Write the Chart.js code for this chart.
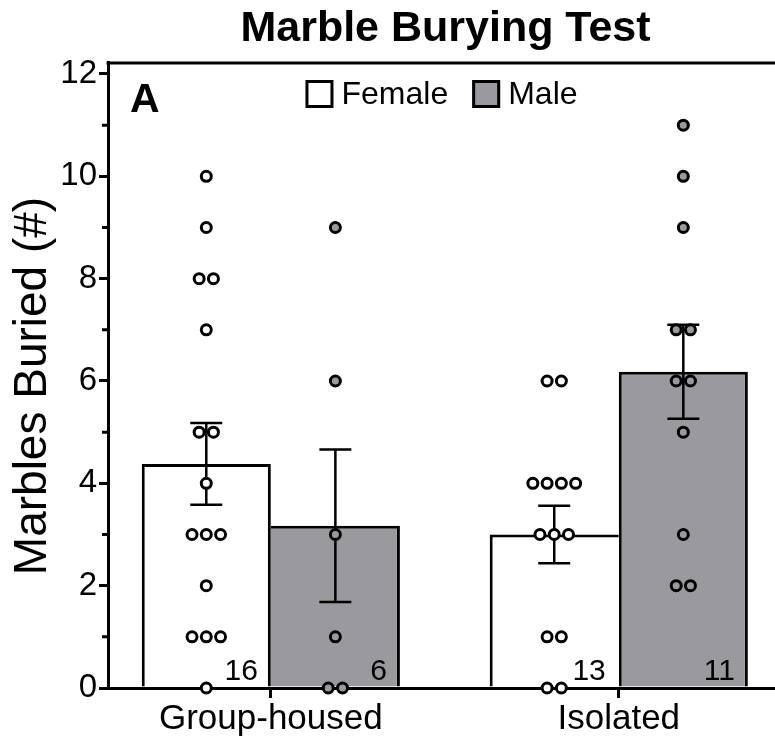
<!DOCTYPE html>
<html>
<head>
<meta charset="utf-8">
<title>Marble Burying Test</title>
<script src="https://cdn.jsdelivr.net/npm/chart.js@4.4.1/dist/chart.umd.min.js"></script>
<style>
  html, body { margin: 0; padding: 0; background: #ffffff; }
  #contenedor { width: 775px; height: 739px; }
</style>
</head>
<body>
<div id="contenedor"><canvas id="graficoMarbles"></canvas></div>
<script>
//Datos
    const grupos = ['Group-housed', 'Isolated'];

    // medias y SEM
    const mediaFemale = [4.38, 3.00];
    const semFemale = [0.80, 0.56];
    const mediaMale = [3.17, 6.18];
    const semMale = [1.49, 0.92];

    // n por barra
    const nFemale = [16, 13];
    const nMale = [6, 11];

    // valores individuales (marbles buried)
    const puntosFemaleGrupo = [10, 9, 8, 8, 7, 5, 5, 4, 3, 3, 3, 2, 1, 1, 1, 0];
    const puntosFemaleAislado = [6, 6, 4, 4, 4, 4, 3, 3, 3, 1, 1, 0, 0];
    const puntosMaleGrupo = [9, 6, 3, 1, 0, 0];
    const puntosMaleAislado = [11, 10, 9, 7, 7, 6, 6, 5, 3, 2, 2];

    const yTicks = [0, 2, 4, 6, 8, 10, 12];
    const yMinor = [1, 3, 5, 7, 9, 11];

//Estilo
    const FUENTE = "'Liberation Sans', Arial, Helvetica, sans-serif";
    const GRIS = '#9a9a9e';
    const CAT_PCT = 0.742;
    const PASO = 0.041; // separacion de puntos repetidos (unidades de x)

    //reparte los puntos repetidos a los lados del centro de la barra
    function puntosXY(valores, grupo, lado) {
        const centro = grupo + lado * CAT_PCT / 4;
        const cuenta = {};
        valores.forEach(v => cuenta[v] = (cuenta[v] || 0) + 1);
        const vistos = {};
        return valores.map(v => {
            const i = vistos[v] || 0;
            vistos[v] = i + 1;
            return { x: centro + (i - (cuenta[v] - 1) / 2) * PASO, y: v };
        });
    }

    const dataMarbles = {
        datasets: [
            {
                type: 'bar',
                label: 'Female',
                data: mediaFemale.map((m, i) => ({ x: i + 1, y: m })),
                backgroundColor: '#ffffff',
                borderColor: '#000000',
                borderWidth: ctx => ({ top: 3, left: 3, bottom: 0,
                    right: mediaFemale[ctx.dataIndex] >= mediaMale[ctx.dataIndex] ? 3 : 0 }),
                sem: semFemale,
                n: nFemale
            },
            {
                type: 'bar',
                label: 'Male',
                data: mediaMale.map((m, i) => ({ x: i + 1, y: m })),
                backgroundColor: GRIS,
                borderColor: '#000000',
                borderWidth: ctx => ({ top: 3, right: 3, bottom: 0,
                    left: mediaMale[ctx.dataIndex] > mediaFemale[ctx.dataIndex] ? 3 : 0 }),
                sem: semMale,
                n: nMale
            },
            {
                type: 'scatter',
                label: 'Female (individual)',
                data: [...puntosXY(puntosFemaleGrupo, 1, -1), ...puntosXY(puntosFemaleAislado, 2, -1)],
                backgroundColor: '#ffffff',
                borderColor: '#000000',
                borderWidth: 3,
                pointRadius: 5,
                clip: false,
                order: -1
            },
            {
                type: 'scatter',
                label: 'Male (individual)',
                data: [...puntosXY(puntosMaleGrupo, 1, 1), ...puntosXY(puntosMaleAislado, 2, 1)],
                backgroundColor: GRIS,
                borderColor: '#000000',
                borderWidth: 3,
                pointRadius: 5,
                clip: false,
                order: -1
            }
        ]
    };

    //Barras de error y n de cada barra
    const pluginErrores = {
        id: 'errores',
        afterDatasetDraw(chart, args) {
            const ds = chart.data.datasets[args.index];
            if (!ds.sem) return;
            const ctx = chart.ctx;
            const y = chart.scales.y;
            ctx.save();
            ctx.strokeStyle = '#000000';
            ctx.lineWidth = 2.5;
            args.meta.data.forEach((bar, i) => {
                const m = ds.data[i].y;
                const s = ds.sem[i];
                const yArriba = y.getPixelForValue(m + s);
                const yAbajo = y.getPixelForValue(m - s);
                ctx.beginPath();
                ctx.moveTo(bar.x, yArriba); ctx.lineTo(bar.x, yAbajo);
                ctx.moveTo(bar.x - 16, yArriba); ctx.lineTo(bar.x + 16, yArriba);
                ctx.moveTo(bar.x - 16, yAbajo); ctx.lineTo(bar.x + 16, yAbajo);
                ctx.stroke();

                ctx.fillStyle = '#000000';
                ctx.font = '30px ' + FUENTE;
                ctx.textAlign = 'right';
                ctx.textBaseline = 'alphabetic';
                ctx.fillText(String(ds.n[i]), bar.x + bar.width / 2 - 13, chart.chartArea.bottom - 8);
            });
            ctx.restore();
        }
    };

    //Marco superior, ticks menores, titulo del eje, letra del panel y leyenda dentro del area
    const pluginDecoracion = {
        id: 'decoracion',
        afterLayout(chart) {
            // el titulo esta un poco a la derecha del centro del area
            chart.titleBlock.left += 4;
            chart.titleBlock.right += 4;
        },
        afterDraw(chart) {
            const ctx = chart.ctx;
            const area = chart.chartArea;
            const y = chart.scales.y;
            ctx.save();

            ctx.strokeStyle = '#000000';
            ctx.lineWidth = 3;
            ctx.beginPath();
            ctx.moveTo(area.left - 1.5, area.top + 1);
            ctx.lineTo(chart.width, area.top + 1);
            ctx.stroke();

            ctx.beginPath();
            yMinor.forEach(v => {
                const py = y.getPixelForValue(v);
                ctx.moveTo(area.left - 6, py);
                ctx.lineTo(area.left, py);
            });
            ctx.stroke();

            // titulo del eje y
            ctx.save();
            ctx.translate(33, 386);
            ctx.rotate(-Math.PI / 2);
            ctx.fillStyle = '#000000';
            ctx.font = '46px ' + FUENTE;
            ctx.textAlign = 'center';
            ctx.textBaseline = 'middle';
            ctx.fillText('Marbles Buried (#)', 0, 0);
            ctx.restore();

            ctx.fillStyle = '#000000';
            ctx.font = 'bold 41px ' + FUENTE;
            ctx.textAlign = 'left';
            ctx.textBaseline = 'alphabetic';
            ctx.fillText('A', area.left + 22, 112);

            // leyenda
            const items = chart.data.datasets.filter(d => d.type === 'bar');
            ctx.font = '32px ' + FUENTE;
            const caja = 28, hueco = 8, entre = 24;
            const anchos = items.map(d => caja + hueco + ctx.measureText(d.label).width);
            const total = anchos.reduce((a, b) => a + b, 0) + entre * (items.length - 1);
            let x = (area.left + area.right) / 2 - total / 2;
            const yc = 94;
            items.forEach((d, i) => {
                ctx.fillStyle = d.backgroundColor;
                ctx.fillRect(x, yc - caja / 2, caja, caja);
                ctx.lineWidth = 3;
                ctx.strokeStyle = '#000000';
                ctx.strokeRect(x + 1.5, yc - caja / 2 + 1.5, caja - 3, caja - 3);
                ctx.fillStyle = '#000000';
                ctx.textBaseline = 'middle';
                ctx.fillText(d.label, x + caja + hueco, yc + 1);
                x += anchos[i] + entre;
            });
            ctx.restore();
        }
    };

    const configMarbles = {
        type: 'bar',
        data: dataMarbles,
        options: {
            responsive: true,
            maintainAspectRatio: false,
            animation: false,
            events: [],
            layout: { padding: 0, autoPadding: false },
            datasets: {
                bar: { barPercentage: 1, categoryPercentage: CAT_PCT }
            },
            plugins: {
                legend: { display: false },
                tooltip: { enabled: false },
                title: {
                    display: true,
                    text: 'Marble Burying Test',
                    fullSize: false,
                    color: '#000000',
                    font: { family: FUENTE, size: 43, weight: 'bold', lineHeight: 1.2 },
                    padding: { top: 3, bottom: 7.4 }
                }
            },
            scales: {
                x: {
                    type: 'linear',
                    offset: false,
                    min: 0.532,
                    max: 2.449,
                    afterBuildTicks: scale => { scale.ticks = [{ value: 1 }, { value: 2 }]; },
                    afterFit: scale => {
                        scale.height = 51;
                        scale.paddingLeft = 0;
                        scale.paddingRight = 0;
                    },
                    ticks: {
                        callback: v => grupos[v - 1],
                        color: '#000000',
                        font: { family: FUENTE, size: 35 },
                        padding: 0,
                        maxRotation: 0,
                        autoSkip: false
                    },
                    grid: { offset: false, drawOnChartArea: false, drawTicks: true, tickLength: 10, color: '#000000', lineWidth: 3 },
                    border: { color: '#000000', width: 3 }
                },
                y: {
                    min: 0,
                    max: 12.234,
                    afterBuildTicks: scale => { scale.ticks = yTicks.map(v => ({ value: v })); },
                    afterFit: scale => {
                        scale.width = 108;
                        scale.paddingTop = 0;
                        scale.paddingBottom = 0;
                    },
                    ticks: {
                        color: '#000000',
                        font: { family: FUENTE, size: 33 },
                        padding: 2
                    },
                    grid: { drawOnChartArea: false, drawTicks: true, tickLength: 9, color: '#000000', lineWidth: 3 },
                    border: { color: '#000000', width: 3 }
                }
            }
        },
        plugins: [pluginErrores, pluginDecoracion]
    };

    new Chart(document.querySelector('#graficoMarbles'), configMarbles);//Crea grafico
</script>
</body>
</html>
